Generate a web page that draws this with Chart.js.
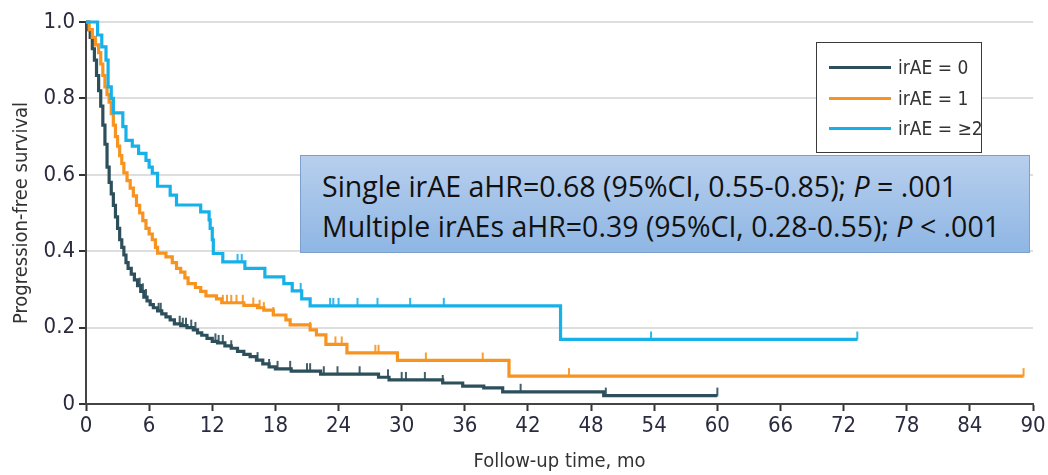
<!DOCTYPE html>
<html><head><meta charset="utf-8">
<script src="https://cdn.jsdelivr.net/npm/chart.js@4.4.1/dist/chart.umd.min.js"></script>
<style>
html,body{margin:0;padding:0;background:#fff;}
#wrap{position:relative;width:1048px;height:475px;overflow:hidden;}
canvas{position:absolute;left:0;top:0;}
#legend{position:absolute;left:816px;top:42px;width:166px;height:111px;border:1.5px solid #3a3a3a;background:#fff;box-sizing:border-box;font-family:'Liberation Sans Narrow','DejaVu Sans Condensed',sans-serif;font-size:19px;color:#333;}
.li{position:absolute;left:12px;height:22px;display:flex;align-items:center;white-space:nowrap;}
.sw{width:62px;height:3px;margin-right:7px;}
#note{position:absolute;left:300px;top:155px;width:730px;height:98px;box-sizing:border-box;border:1px solid #7d9fcc;background:linear-gradient(#b7cfed,#8fb6e4);font-family:'Open Sans',sans-serif;font-size:28.5px;color:#111;padding-left:21px;padding-top:10px;line-height:40px;white-space:nowrap;}
</style></head>
<body>
<div id="wrap">
<canvas id="c" width="1048" height="475"></canvas>
<div id="legend"></div>
<div id="note"><div>Single irAE aHR=0.68 (95%CI, 0.55-0.85); <i>P</i> = .001</div><div>Multiple irAEs aHR=0.39 (95%CI, 0.28-0.55); <i>P</i> &lt; .001</div></div>
</div>
<script>
// ---- data (months, survival) ----
const seriesNames = ['irAE = 0', 'irAE = 1', 'irAE = \u22652'];
const colors = ['#2d4f5b', '#f7931e', '#17b1ea'];

const times0 = [0,0.2,0.4,0.6,0.8,1.0,1.2,1.4,1.6,1.8,2.0,2.2,2.4,2.6,2.8,3.0,3.2,3.4,3.6,3.8,4.0,4.3,4.6,4.9,5.2,5.5,5.8,6.1,6.4,6.8,7.2,7.6,8.0,8.4,9.0,9.6,10.2,10.6,11.0,11.5,12.0,12.5,13.2,13.8,14.4,15.0,15.6,16.2,16.8,17.4,18.0,19.5,22.3,27.8,28.8,33.9,35.8,37.8,39.6,49.2,60];
const surv0  = [1,0.98,0.96,0.93,0.90,0.86,0.82,0.78,0.73,0.68,0.62,0.58,0.55,0.52,0.49,0.46,0.43,0.41,0.39,0.37,0.355,0.34,0.325,0.31,0.295,0.28,0.27,0.26,0.252,0.244,0.236,0.228,0.22,0.21,0.205,0.20,0.194,0.186,0.18,0.172,0.164,0.16,0.152,0.146,0.138,0.13,0.124,0.115,0.105,0.097,0.092,0.086,0.078,0.070,0.063,0.055,0.047,0.042,0.032,0.022,0.022];
const censor0 = [5.1,5.4,5.7,6.9,7.1,8.9,9.2,9.5,10.0,10.4,12.3,12.6,13.0,13.8,16.3,17.4,18.2,19.4,21.0,21.3,22.6,23.9,26.0,28.7,30.0,30.4,32.2,33.9,41.3,49.4,60];

const times1 = [0,0.3,0.6,0.9,1.2,1.4,1.6,1.8,2.0,2.2,2.4,2.6,2.8,3.0,3.2,3.4,3.6,3.9,4.2,4.5,4.8,5.1,5.4,5.7,6.0,6.3,6.6,6.8,7.6,8.2,8.6,9.0,9.4,9.7,10.4,10.9,11.4,12.4,12.9,15.0,16.3,16.9,17.8,19.0,19.4,21.3,21.9,22.8,24.8,29.6,40.2,89.1];
const surv1  = [1,0.98,0.96,0.94,0.92,0.89,0.86,0.83,0.81,0.79,0.76,0.73,0.70,0.675,0.65,0.63,0.605,0.585,0.565,0.545,0.52,0.50,0.48,0.46,0.445,0.43,0.41,0.395,0.385,0.37,0.355,0.345,0.33,0.315,0.305,0.295,0.283,0.275,0.265,0.258,0.252,0.246,0.233,0.22,0.207,0.194,0.181,0.156,0.134,0.114,0.073,0.073];
const censor1 = [13.0,13.4,13.8,14.3,14.9,15.9,16.5,16.9,17.8,21.3,23.7,24.3,27.5,27.8,32.3,37.7,45.9,89.1];

const times2 = [0,1.1,1.5,1.9,2.1,2.4,2.6,3.5,3.8,4.4,5.0,5.7,6.0,6.3,6.8,8.0,8.6,10.9,11.7,11.8,12.0,12.1,13.0,15.1,17.0,18.8,19.6,20.5,21.3,45.1,73.3];
const surv2  = [1,0.966,0.935,0.90,0.83,0.80,0.762,0.726,0.69,0.675,0.656,0.638,0.62,0.604,0.57,0.547,0.521,0.503,0.482,0.46,0.43,0.394,0.372,0.355,0.333,0.315,0.296,0.275,0.257,0.169,0.169];
const censor2 = [14.4,14.8,20.4,23.2,23.5,24.0,25.8,27.7,30.8,34.0,53.7,73.3];

const xTicks = [0,6,12,18,24,30,36,42,48,54,60,66,72,78,84,90];
const yTicks = [0,0.2,0.4,0.6,0.8,1.0];

// ---- helpers ----
function stepAt(ts, ss, t){ let v = ss[0]; for(let i=0;i<ts.length;i++){ if(ts[i] <= t + 1e-9) v = ss[i]; } return v; }
function tickImg(color){ const c=document.createElement('canvas'); c.width=4; c.height=18; const g=c.getContext('2d'); g.strokeStyle=color; g.lineWidth=1.8; g.beginPath(); g.moveTo(2,1); g.lineTo(2,9.5); g.stroke(); return c; }

const all = [[times0,surv0,censor0],[times1,surv1,censor1],[times2,surv2,censor2]];
const datasets = [];
all.forEach((s,k)=>{
  datasets.push({label: seriesNames[k], data: s[0].map((t,i)=>({x:t,y:s[1][i]})), borderColor: colors[k], borderWidth: 3.2, stepped: true, pointRadius: 0, fill: false, clip: false, order: 3-k});
});
all.forEach((s,k)=>{
  datasets.push({label: seriesNames[k]+' censored', data: s[2].map(t=>({x:t,y:stepAt(s[0],s[1],t)})), showLine: false, pointStyle: tickImg(colors[k]), pointRadius: 4, clip: false, order: 3-k});
});

const tickFont = {family: "'Liberation Sans Narrow','DejaVu Sans Condensed',sans-serif", size: 22};
const titleFont = {family: "'Liberation Sans Narrow','DejaVu Sans Condensed',sans-serif", size: 20};

new Chart(document.getElementById('c'), {
  type: 'line',
  data: {datasets},
  options: {
    responsive: false, animation: false, devicePixelRatio: 1,
    layout: {padding: {top: 22, right: 15, left: 0, bottom: 0}},
    plugins: {legend: {display: false}, tooltip: {enabled: false}},
    scales: {
      x: {type: 'linear', min: 0, max: 90,
          afterBuildTicks: sc => { sc.ticks = xTicks.map(v=>({value:v})); },
          afterFit: sc => { sc.height = 71; },
          ticks: {font: tickFont, color: '#2b2b3f', padding: 2, maxRotation: 0, autoSkip: false},
          grid: {display: true, drawOnChartArea: false, drawTicks: true, tickLength: 7, tickColor: '#333', tickWidth: 2},
          border: {display: true, color: '#444', width: 2},
          title: {display: true, text: 'Follow-up time, mo', font: titleFont, color: '#333', padding: {top: 0, bottom: 1}}},
      y: {type: 'linear', min: 0, max: 1,
          afterBuildTicks: sc => { sc.ticks = yTicks.map(v=>({value:v})); },
          afterFit: sc => { sc.width = 86; },
          ticks: {font: tickFont, color: '#2b2b3f', padding: 4, callback: v => v === 0 ? '0' : v.toFixed(1)},
          grid: {display: true, drawOnChartArea: true, color: c => c.tick && c.tick.value === 0 ? 'rgba(0,0,0,0)' : '#dedede', lineWidth: 2, drawTicks: true, tickLength: 7, tickColor: '#333', tickWidth: 2},
          border: {display: true, color: '#444', width: 2},
          title: {display: true, text: 'Progression-free survival', font: titleFont, color: '#333', padding: {top: 10, bottom: 0}}}
    }
  }
});

// legend (HTML text)
const lg = document.getElementById('legend');
const tops = [13, 44, 74];
seriesNames.forEach((n,k)=>{
  const d = document.createElement('div'); d.className='li'; d.style.top = tops[k]+'px';
  const sw = document.createElement('div'); sw.className='sw'; sw.style.background = colors[k];
  const tx = document.createElement('span'); tx.textContent = n;
  d.appendChild(sw); d.appendChild(tx); lg.appendChild(d);
});
</script>
</body></html>
